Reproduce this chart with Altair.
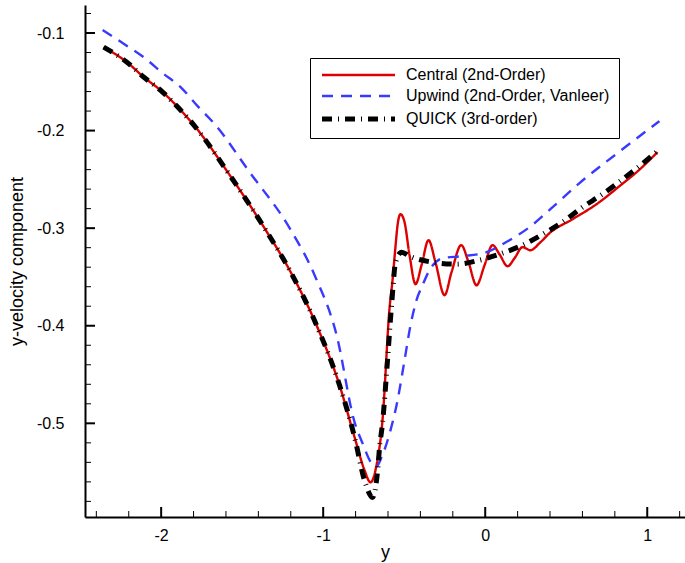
import altair as alt
import pandas as pd

series_names = ["Central (2nd-Order)", "Upwind (2nd-Order, Vanleer)", "QUICK (3rd-order)"]

x_central = [-2.355, -2.213, -2.108, -1.991, -1.892, -1.793, -1.577, -1.362, -1.207, -1.041,
             -0.899, -0.806, -0.745, -0.708, -0.671, -0.634, -0.590, -0.572, -0.553, -0.541,
             -0.523, -0.498, -0.467, -0.430, -0.393, -0.350, -0.307, -0.251, -0.208, -0.148,
             -0.103, -0.054, -0.004, 0.045, 0.088, 0.138, 0.181, 0.230, 0.279, 0.335,
             0.397, 0.539, 0.687, 0.829, 0.952, 1.063]
y_central = [-0.1144, -0.1297, -0.1451, -0.1605, -0.1769, -0.1954, -0.2456, -0.3000, -0.3431, -0.3995,
             -0.4610, -0.5144, -0.5480, -0.5605, -0.5431, -0.4969, -0.3810, -0.3533, -0.3174, -0.2969,
             -0.2856, -0.2938, -0.3277, -0.3574, -0.3379, -0.3123, -0.3349, -0.3687, -0.3451, -0.3174,
             -0.3349, -0.3585, -0.3379, -0.3174, -0.3267, -0.3390, -0.3308, -0.3195, -0.3226, -0.3154,
             -0.3051, -0.2908, -0.2754, -0.2569, -0.2400, -0.2221]

x_upwind = [-2.361, -2.238, -2.102, -1.991, -1.874, -1.775, -1.670, -1.454, -1.207, -1.053,
            -0.917, -0.806, -0.757, -0.701, -0.671, -0.640, -0.590, -0.541, -0.498, -0.461,
            -0.424, -0.387, -0.344, -0.263, -0.140, 0.008, 0.150, 0.273, 0.409, 0.582,
            0.816, 1.075]
y_upwind = [-0.0969, -0.1103, -0.1256, -0.1410, -0.1564, -0.1749, -0.1933, -0.2426, -0.3000, -0.3482,
            -0.4097, -0.4990, -0.5205, -0.5410, -0.5441, -0.5349, -0.5103, -0.4764, -0.4354, -0.3995,
            -0.3738, -0.3585, -0.3431, -0.3308, -0.3287, -0.3246, -0.3123, -0.2990, -0.2795, -0.2538,
            -0.2231, -0.1903]

x_quick = [-2.355, -2.213, -2.108, -1.991, -1.892, -1.793, -1.577, -1.362, -1.207, -1.041,
           -0.899, -0.806, -0.745, -0.695, -0.664, -0.652, -0.634, -0.603, -0.578, -0.553,
           -0.516, -0.467, -0.325, -0.177, -0.035, 0.107, 0.230, 0.366, 0.477, 0.600,
           0.724, 0.841, 0.952, 1.063]
y_quick = [-0.1144, -0.1297, -0.1451, -0.1605, -0.1769, -0.1954, -0.2456, -0.3000, -0.3431, -0.3995,
           -0.4610, -0.5144, -0.5585, -0.5759, -0.5482, -0.5246, -0.5000, -0.4354, -0.3790, -0.3349,
           -0.3246, -0.3287, -0.3349, -0.3369, -0.3328, -0.3256, -0.3174, -0.3051, -0.2938, -0.2785,
           -0.2651, -0.2508, -0.2364, -0.2210]

x_major_ticks = [-2, -1, 0, 1]
x_minor_ticks = [-2.4, -2.2, -1.8, -1.6, -1.4, -1.2, -0.8, -0.6, -0.4, -0.2, 0.2, 0.4, 0.6, 0.8, 1.2]
y_major_ticks = [-0.5, -0.4, -0.3, -0.2, -0.1]
y_minor_ticks = [-0.58, -0.56, -0.54, -0.52, -0.48, -0.46, -0.44, -0.42, -0.38, -0.36, -0.34, -0.32,
                 -0.28, -0.26, -0.24, -0.22, -0.18, -0.16, -0.14, -0.12, -0.08]

rows = []
for name, xs, ys in zip(series_names, [x_central, x_upwind, x_quick], [y_central, y_upwind, y_quick]):
    for i, (a, b) in enumerate(zip(xs, ys)):
        rows.append({"series": name, "x": a, "v": b, "order": i})
df = pd.DataFrame(rows)

FONT = "Liberation Sans"
W, H = 600, 512
xscale = alt.Scale(domain=[-2.47, 1.233], nice=False, zero=False)
yscale = alt.Scale(domain=[-0.596, -0.0713], nice=False, zero=False)

# legend symbol: a flat stroke drawn from the symbol's left edge, 73 px long (unit = 5 px)
legend = alt.Legend(
    title=None, orient="none", legendX=225, legendY=53,
    strokeColor="black", fillColor="white", padding=9,
    labelFont=FONT, labelFontSize=16, labelColor="black", labelLimit=400,
    symbolSize=100, symbolType="M-1,0L13.6,0", labelOffset=71, rowPadding=5,
)

lines = alt.Chart(df).mark_line(interpolate="monotone", clip=True, strokeCap="butt").encode(
    x=alt.X("x:Q", scale=xscale, axis=alt.Axis(
        values=x_major_ticks, labelExpr="'' + datum.value", ticks=False, grid=False,
        domainColor="black", domainWidth=2, labelFont=FONT, labelFontSize=16, labelColor="black",
        labelPadding=10, title="y", titleFont=FONT, titleFontSize=18, titleFontWeight="normal",
        titleColor="black", titlePadding=0)),
    y=alt.Y("v:Q", scale=yscale, axis=alt.Axis(
        values=y_major_ticks, labelExpr="'' + datum.value", ticks=False, grid=False,
        domainColor="black", domainWidth=2, labelFont=FONT, labelFontSize=16, labelColor="black",
        labelPadding=21, title="y-velocity component", titleFont=FONT, titleFontSize=18,
        titleFontWeight="normal", titleColor="black", titlePadding=10)),
    color=alt.Color("series:N", sort=series_names,
                    scale=alt.Scale(domain=series_names, range=["#dd0000", "#3a3aff", "#000000"]), legend=legend),
    strokeDash=alt.StrokeDash("series:N", sort=series_names,
                              scale=alt.Scale(domain=series_names, range=[[1, 0], [11, 8], [10, 6, 1, 6]]), legend=legend),
    strokeWidth=alt.StrokeWidth("series:N", sort=series_names,
                                scale=alt.Scale(type="ordinal", domain=series_names, range=[2.4, 2.4, 5]), legend=legend),
    order="order:Q",
)

xmaj = alt.Chart(pd.DataFrame({"t": x_major_ticks})).mark_rule(color="black", strokeWidth=2).encode(
    x=alt.X("t:Q", scale=xscale), y=alt.value(H), y2=alt.value(H - 10))
xmin = alt.Chart(pd.DataFrame({"t": x_minor_ticks})).mark_rule(color="black", strokeWidth=1).encode(
    x=alt.X("t:Q", scale=xscale), y=alt.value(H), y2=alt.value(H - 6))
ymaj = alt.Chart(pd.DataFrame({"t": y_major_ticks})).mark_rule(color="black", strokeWidth=2).encode(
    y=alt.Y("t:Q", scale=yscale), x=alt.value(0), x2=alt.value(10))
ymin = alt.Chart(pd.DataFrame({"t": y_minor_ticks})).mark_rule(color="black", strokeWidth=1).encode(
    y=alt.Y("t:Q", scale=yscale), x=alt.value(0), x2=alt.value(6))

chart = alt.layer(lines, xmaj, xmin, ymaj, ymin).properties(
    width=W, height=H,
    autosize=alt.AutoSizeParams(type="none"),
    padding={"left": 85, "top": 5, "right": 0, "bottom": 46},
    background="white",
).configure_view(stroke=None)

chart.save("out.html", embed_options={"renderer": "svg", "actions": False})
